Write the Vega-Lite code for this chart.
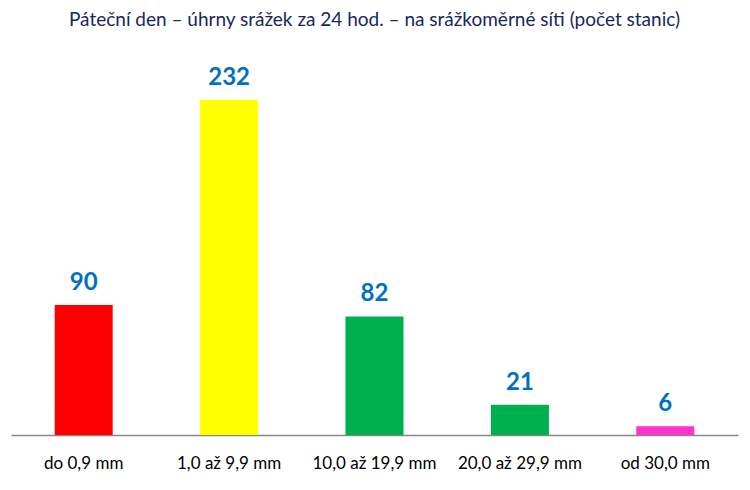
{
  "$schema": "https://vega.github.io/schema/vega-lite/v6.json",
  "autosize": "none",
  "width": 727,
  "height": 383,
  "padding": {"left": 11, "right": 12, "top": 52, "bottom": 55},
  "background": "white",
  "title": {
    "text": "Páteční den – úhrny srážek za 24 hod. – na srážkoměrné síti (počet stanic)",
    "font": "Lato",
    "fontSize": 19,
    "fontWeight": "normal",
    "color": "#17275E",
    "anchor": "middle",
    "offset": 22
  },
  "data": {
    "values": [
      {"kat": "do 0,9 mm", "pocet": 90, "barva": "#FF0000"},
      {"kat": "1,0 až 9,9 mm", "pocet": 232, "barva": "#FFFF00"},
      {"kat": "10,0 až 19,9 mm", "pocet": 82, "barva": "#00B050"},
      {"kat": "20,0 až 29,9 mm", "pocet": 21, "barva": "#00B050"},
      {"kat": "od 30,0 mm", "pocet": 6, "barva": "#FF33CC"}
    ]
  },
  "encoding": {
    "x": {
      "field": "kat", "type": "nominal", "sort": null, "title": null,
      "axis": {"labelAngle": 0, "labelFont": "Lato", "labelFontSize": 17, "labelColor": "#000000", "ticks": false, "labelPadding": 20, "domainColor": "#868686", "domainWidth": 1.5, "grid": false}
    },
    "y": {
      "field": "pocet", "type": "quantitative",
      "scale": {"domain": [0, 265]},
      "axis": null
    }
  },
  "layer": [
    {"mark": {"type": "bar", "size": 58}, "encoding": {"color": {"field": "barva", "type": "nominal", "scale": null}}},
    {"mark": {"type": "text", "baseline": "bottom", "dy": -10, "font": "Lato", "fontSize": 24, "fontWeight": "bold", "color": "#0070C0"}, "encoding": {"text": {"field": "pocet", "type": "quantitative"}}}
  ],
  "config": {"view": {"stroke": null}}
}
